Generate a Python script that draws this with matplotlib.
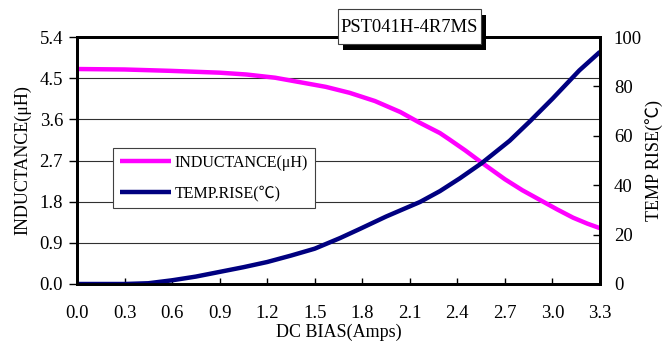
import numpy as np
import matplotlib.pyplot as plt
from matplotlib.patches import Rectangle

plt.rcParams['font.family'] = ['Liberation Serif', 'Noto Sans CJK SC', 'DejaVu Sans']
plt.rcParams['font.size'] = 13

# values
amps = [0.0, 0.3, 0.59, 0.9, 1.07, 1.25, 1.41, 1.57, 1.72, 1.88, 2.04, 2.16, 2.29, 2.35,
        2.45, 2.555, 2.7, 2.81, 2.92, 3.03, 3.13, 3.22, 3.3]
inductance = [4.70, 4.69, 4.66, 4.62, 4.58, 4.51, 4.41, 4.31, 4.18, 4.00, 3.76, 3.53, 3.30, 3.16,
              2.92, 2.65, 2.29, 2.05, 1.84, 1.63, 1.45, 1.32, 1.22]
temp_amps = [0.0, 0.3, 0.45, 0.6, 0.75, 0.9, 1.05, 1.2, 1.35, 1.5, 1.66, 1.785, 1.95, 2.164,
             2.29, 2.416, 2.555, 2.73, 2.86, 3.0, 3.17, 3.3]
temp_rise = [0.0, 0.0, 0.3, 1.5, 3.0, 4.9, 6.8, 8.9, 11.5, 14.3, 18.6, 22.3, 27.3, 33.2,
             37.6, 42.8, 49.0, 58.0, 66.0, 75.0, 86.5, 94.0]

x_ticks = np.arange(0, 3.31, 0.3)
left_ticks = np.arange(0, 5.41, 0.9)
right_ticks = np.arange(0, 101, 20)

fig = plt.figure(figsize=(6.66, 3.42), dpi=100)
ax = fig.add_axes([0.1156, 0.1696, 0.7853, 0.7222])
ax2 = ax.twinx()

l1, = ax.plot(amps, inductance, color='#FF00FF', lw=3.2, solid_capstyle='butt', label='INDUCTANCE(μH)')
l2, = ax2.plot(temp_amps, temp_rise, color='#000080', lw=3.2, solid_capstyle='butt', label='TEMP.RISE(℃)')

ax.set_xlim(0, 3.3)
ax.set_ylim(0, 5.4)
ax2.set_ylim(0, 100)
ax.set_xticks(x_ticks)
ax.set_xticklabels(['%.1f' % v for v in x_ticks])
ax.set_yticks(left_ticks)
ax.set_yticklabels(['%.1f' % v for v in left_ticks])
ax2.set_yticks(right_ticks)

ax.grid(axis='y', color='#303030', lw=0.8)
ax.set_axisbelow(True)
ax.tick_params(axis='x', direction='in', length=4, width=1, pad=15, labelsize=13.5)
ax.tick_params(axis='y', direction='out', length=6, width=1, pad=4, labelsize=13.5)
ax2.tick_params(axis='y', direction='in', length=5, width=1, pad=10, labelsize=13.5)

for a in (ax, ax2):
    for s in a.spines.values():
        s.set_linewidth(2)

ax.set_xlabel('DC BIAS(Amps)', labelpad=1)
ax.set_ylabel('INDUCTANCE(μH)', labelpad=6)
ax2.set_ylabel('TEMP RISE(℃)', labelpad=2)

leg = ax.legend(handles=[l1, l2], loc='upper left', bbox_to_anchor=(0.068, 0.552),
                fancybox=False, edgecolor='#404040', framealpha=1, handlelength=3.2,
                handletextpad=0.25, labelspacing=0.9, borderpad=0.45, fontsize=11.5,
                borderaxespad=0)
leg.get_frame().set_linewidth(0.8)

# title box with drop shadow (pixel layout of the reference)
W, H = 666, 342
fig.patches.append(Rectangle((343 / W, 1 - 50 / H), 143 / W, 35 / H, transform=fig.transFigure,
                             fc='black', ec='black', lw=0, zorder=5))
fig.patches.append(Rectangle((338 / W, 1 - 44 / H), 143 / W, 35 / H, transform=fig.transFigure,
                             fc='white', ec='#404040', lw=0.8, zorder=6))
fig.text(409.5 / W, 1 - 27 / H, 'PST041H-4R7MS', ha='center', va='center', fontsize=13.4, zorder=7)

fig.savefig('out.png', dpi=100)
